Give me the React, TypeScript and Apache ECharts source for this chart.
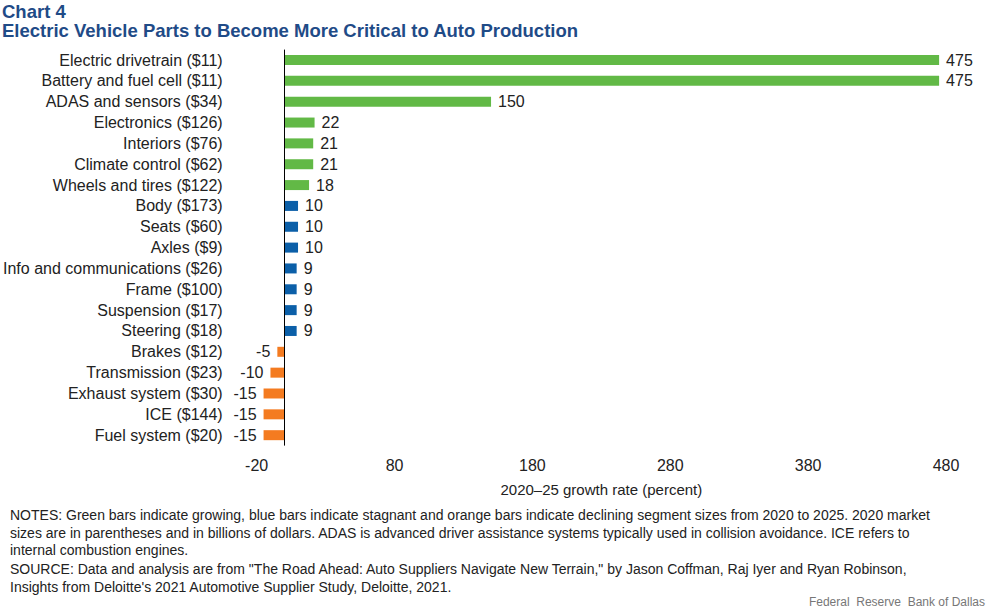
import React, { useEffect, useRef } from "react";
import * as echarts from "echarts";

const categories = [
  "Electric drivetrain ($11)",
  "Battery and fuel cell ($11)",
  "ADAS and sensors ($34)",
  "Electronics ($126)",
  "Interiors ($76)",
  "Climate control ($62)",
  "Wheels and tires ($122)",
  "Body ($173)",
  "Seats ($60)",
  "Axles ($9)",
  "Info and communications ($26)",
  "Frame ($100)",
  "Suspension ($17)",
  "Steering ($18)",
  "Brakes ($12)",
  "Transmission ($23)",
  "Exhaust system ($30)",
  "ICE ($144)",
  "Fuel system ($20)",
];
const values = [475, 475, 150, 22, 21, 21, 18, 10, 10, 10, 9, 9, 9, 9, -5, -10, -15, -15, -15];
const groups = [
  "growing", "growing", "growing", "growing", "growing", "growing", "growing",
  "stagnant", "stagnant", "stagnant", "stagnant", "stagnant", "stagnant", "stagnant",
  "declining", "declining", "declining", "declining", "declining",
];
const xTickLabels = [-20, 80, 180, 280, 380, 480];

const groupColors: Record<string, string> = {
  growing: "#62b946",
  stagnant: "#0b5fa8",
  declining: "#f47b20",
};

const notesLines = [
  "NOTES: Green bars indicate growing, blue bars indicate stagnant and orange bars indicate declining segment sizes from 2020 to 2025. 2020 market",
  "sizes are in parentheses and in billions of dollars. ADAS is advanced driver assistance systems typically used in collision avoidance. ICE refers to",
  "internal combustion engines.",
];
const sourceLines = [
  "SOURCE: Data and analysis are from \"The Road Ahead: Auto Suppliers Navigate New Terrain,\" by Jason Coffman, Raj Iyer and Ryan Robinson,",
  "Insights from Deloitte's 2021 Automotive Supplier Study, Deloitte, 2021.",
];

export default function App() {
  const ref = useRef<HTMLDivElement>(null);
  useEffect(() => {
    if (!ref.current) return;
    const chart = echarts.init(ref.current, null, { renderer: "svg" });
    const font = "'Liberation Sans', Arial, sans-serif";
    const textColor = "#222222";
    const titleColor = "#1f4b87";

    const footerTexts: any[] = [];
    notesLines.forEach((t, i) => {
      footerTexts.push({
        type: "text",
        left: 10,
        top: 508 + i * 17.5,
        style: { text: t, font: `14px ${font}`, fill: textColor },
      });
    });
    sourceLines.forEach((t, i) => {
      footerTexts.push({
        type: "text",
        left: 10,
        top: 562 + i * 17.5,
        style: { text: t, font: `14px ${font}`, fill: textColor },
      });
    });

    chart.setOption({
      animation: false,
      textStyle: { fontFamily: font },
      grid: { left: 256, right: 51, top: 49.6, bottom: 167.4, containLabel: false },
      xAxis: {
        type: "value",
        min: -20,
        max: 480,
        axisLine: { show: false },
        axisTick: { show: false },
        splitLine: { show: false },
        axisLabel: {
          customValues: xTickLabels,
          color: textColor,
          fontSize: 16,
          fontFamily: font,
          margin: 12,
        },
        name: "2020–25 growth rate (percent)",
        nameLocation: "middle",
        nameGap: 36,
        nameTextStyle: { color: textColor, fontSize: 15, fontFamily: font },
      },
      yAxis: {
        type: "category",
        data: categories,
        inverse: true,
        axisLine: { show: false },
        axisTick: { show: false },
        splitLine: { show: false },
        axisLabel: {
          color: textColor,
          fontSize: 16,
          fontFamily: font,
          margin: 34,
        },
      },
      series: [
        {
          type: "bar",
          barWidth: 10,
          data: values.map((v, i) => ({
            value: v,
            itemStyle: { color: groupColors[groups[i]] },
            label: {
              show: true,
              position: v >= 0 ? "right" : "left",
              distance: 7,
              color: textColor,
              fontSize: 16,
              fontFamily: font,
            },
          })),
          markLine: {
            silent: true,
            symbol: ["none", "none"],
            label: { show: false },
            lineStyle: { color: "#000000", width: 1, type: "solid" },
            data: [{ xAxis: 0 }],
          },
        },
      ],
      graphic: [
        {
          type: "text",
          left: 2,
          top: 2,
          style: { text: "Chart 4", font: `bold 18.5px ${font}`, fill: titleColor },
        },
        {
          type: "text",
          left: 2,
          top: 21,
          style: {
            text: "Electric Vehicle Parts to Become More Critical to Auto Production",
            font: `bold 18.5px ${font}`,
            fill: titleColor,
          },
        },
        ...footerTexts,
        {
          type: "text",
          right: 12,
          top: 596,
          style: { text: "Federal  Reserve  Bank of Dallas", font: `12px ${font}`, fill: "#777777" },
        },
      ],
    });
    return () => chart.dispose();
  }, []);
  return (
    <div
      ref={ref}
      style={{ position: "fixed", left: 0, top: 0, width: 997, height: 613, background: "#ffffff" }}
    />
  );
}
